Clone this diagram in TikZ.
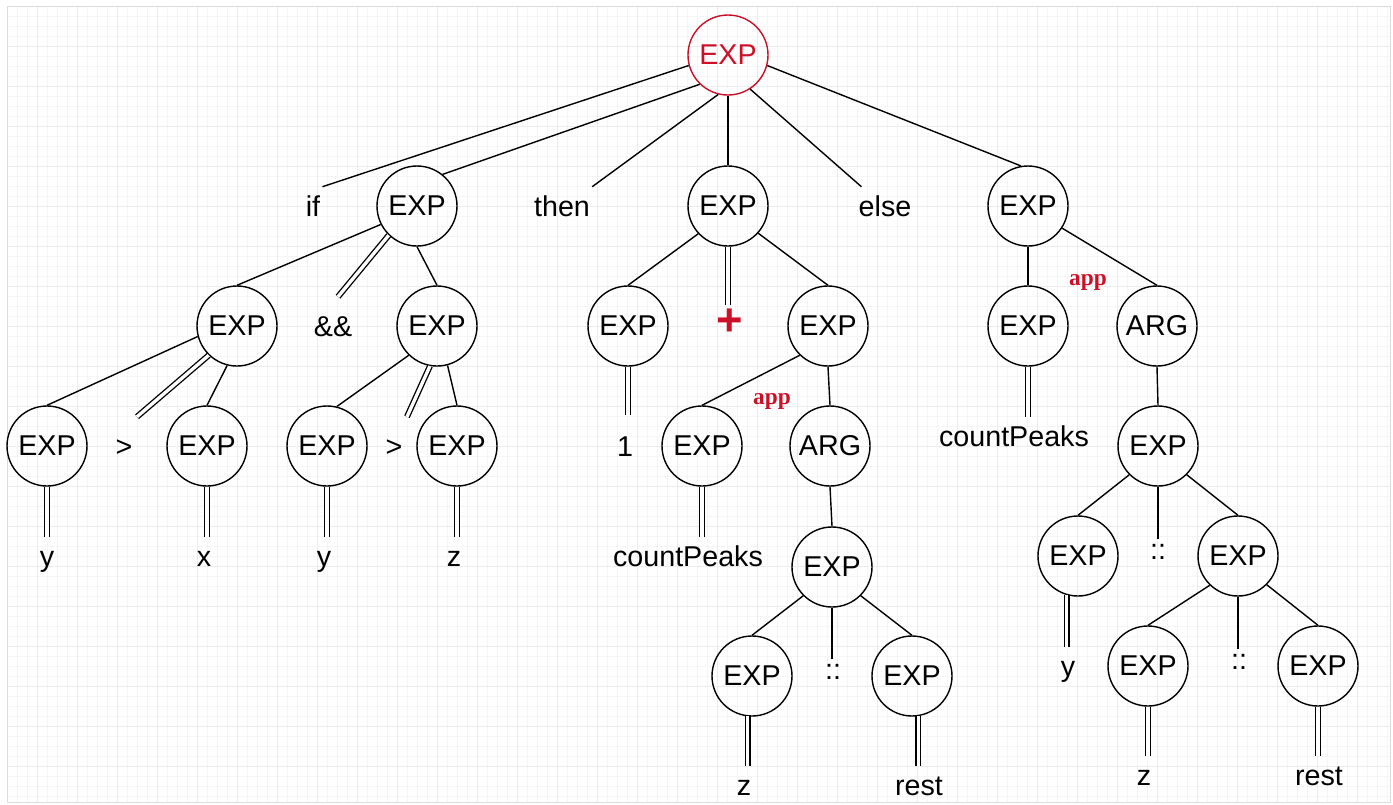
\documentclass[tikz,border=0pt]{standalone}
\usepackage{fontspec}
\setmainfont{Liberation Sans}
\newfontfamily\serifapp{Liberation Serif}
\usetikzlibrary{calc}
\definecolor{nodered}{RGB}{204,16,40}
\definecolor{gridminor}{RGB}{245,245,245}
\definecolor{gridmajor}{RGB}{236,236,236}
\definecolor{framegray}{RGB}{220,220,220}
\begin{document}
\begin{tikzpicture}[x=0.75pt,y=-0.75pt,
  cnode/.style={circle,draw,line width=1.05pt,minimum size=60pt,inner sep=0pt,font=\fontsize{21.5}{25}\selectfont},
  rootnode/.style={cnode,draw=nodered,text=nodered},
  txt/.style={anchor=base,font=\fontsize{21.5}{25}\selectfont,text height=15.75pt,text depth=5pt,inner xsep=1.5pt,inner ysep=6pt},
  gtnode/.style={txt,inner ysep=13.5pt},
  onenode/.style={txt,inner ysep=15pt},
  sepdots/.style={anchor=base,font=\fontsize{21.5}{25}\selectfont,text height=15pt,text depth=0pt,inner xsep=1pt,inner ysep=0pt},
  applbl/.style={font=\serifapp\bfseries\fontsize{17.5}{20}\selectfont,text=nodered,inner sep=0pt},
  pluslbl/.style={font=\bfseries\fontsize{34}{34}\selectfont,text=nodered,inner sep=0pt,minimum height=25.5pt},
  ln/.style={line width=1.05pt},
  dln/.style={line width=1pt,double,double distance=2.5pt}
]
% background
\useasboundingbox (0,0) rectangle (1393,804);
\fill[white] (0,0) rectangle (1393,804);
\begin{scope}
\clip (7,6) rectangle (1390,802);
\foreach \x in {7,17,...,1387} \draw[gridminor,line width=0.75pt] (\x,6) -- (\x,802);
\foreach \y in {6,16,...,796} \draw[gridminor,line width=0.75pt] (7,\y) -- (1390,\y);
\foreach \x in {37,77,...,1387} \draw[gridmajor,line width=0.75pt] (\x,6) -- (\x,802);
\foreach \y in {46,86,...,796} \draw[gridmajor,line width=0.75pt] (7,\y) -- (1390,\y);
\end{scope}
\draw[framegray,line width=0.75pt] (7,6) rectangle (1390,802);

% level 1-2
\node[rootnode] (R) at (728,55) {EXP};
\node[txt] (if) at (313,216) {if};
\node[cnode] (E1) at (417,206) {EXP};
\node[txt] (then) at (562,216) {then};
\node[cnode] (E2) at (728,206) {EXP};
\node[txt] (else) at (885,216) {else};
\node[cnode] (E3) at (1028,206) {EXP};

% level 3
\node[cnode] (E11) at (237,326) {EXP};
\node[gtnode] (amp) at (333,336) {\&\&};
\node[cnode] (E12) at (437,326) {EXP};
\node[cnode] (E21) at (628,326) {EXP};
\node[pluslbl] (plus) at (730,322) {+};
\node[cnode] (E22) at (828,326) {EXP};
\node[cnode] (E31) at (1028,326) {EXP};
\node[applbl] (app2) at (1088,282) {app};
\node[cnode] (A3) at (1157,326) {ARG};

% level 4
\node[cnode] (E111) at (47,446) {EXP};
\node[gtnode] (gt1) at (124,456) {>};
\node[cnode] (E112) at (207,446) {EXP};
\node[cnode] (E121) at (327,446) {EXP};
\node[gtnode] (gt2) at (394,456) {>};
\node[cnode] (E122) at (457,446) {EXP};
\node[onenode] (one) at (625,456) {1};
\node[cnode] (E221) at (702,446) {EXP};
\node[applbl] (app1) at (772,401) {app};
\node[cnode] (A22) at (830,446) {ARG};
\node[txt] (cpR) at (1014,446) {countPeaks};
\node[cnode] (E3A) at (1158,446) {EXP};

% level 5
\node[txt] (yL) at (47,566) {y};
\node[txt] (xL) at (204,566) {x};
\node[txt] (yM) at (324,566) {y};
\node[txt] (zM) at (454,566) {z};
\node[txt] (cpL) at (688,566) {countPeaks};
\node[cnode] (EB) at (832,567) {EXP};
\node[cnode] (E3B1) at (1078,556) {EXP};
\node[sepdots] (dc2) at (1158,559) {::};
\node[cnode] (E3B2) at (1238,556) {EXP};

% level 6
\node[cnode] (EB1) at (752,676) {EXP};
\node[sepdots] (dc1) at (833,679) {::};
\node[cnode] (EB2) at (912,676) {EXP};
\node[txt] (yR) at (1068,676) {y};
\node[cnode] (E3C1) at (1148,666) {EXP};
\node[sepdots] (dc3) at (1239,669) {::};
\node[cnode] (E3C2) at (1318,666) {EXP};

% level 7
\node[txt] (zB) at (744,795) {z};
\node[txt] (restB) at (919,795) {rest};
\node[txt] (zR) at (1144,785) {z};
\node[txt] (restR) at (1319,785) {rest};

% edges from root
\draw[ln] (R.195) -- (if.north east);
\draw[ln] (R.226) -- (E1.51);
\draw[ln] (R.256) -- (then.north east);
\draw[ln] (R.south) -- (E2.north);
\draw[ln] (R.303) -- ([xshift=3.75pt]else.north west);
\draw[ln] (R.345) -- (E3.100);

% E1 subtree
\draw[ln] (E1.207) -- (E11.north);
\draw[dln] (E1.226) -- ([xshift=3.75pt]amp.north);
\draw[ln] (E1.south) -- (E12.north);
\draw[ln] (E11.195) -- (E111.north);
\draw[dln] (E11.226) -- ([xshift=9.75pt]gt1.north);
\draw[ln] (E11.256) -- (E112.north);
\draw[ln] (E12.226) -- (E121.76);
\draw[dln] (E12.260) -- ([xshift=9.75pt]gt2.north);
\draw[ln] (E12.285) -- (E122.north);
\draw[dln] (E111.south) -- (E111.south |- yL.north);
\draw[dln] (E112.south) -- (E112.south |- xL.north);
\draw[dln] (E121.south) -- (E121.south |- yM.north);
\draw[dln] (E122.south) -- (E122.south |- zM.north);

% E2 subtree
\draw[ln] (E2.223) -- (E21.north);
\draw[dln] (E2.south) -- (E2.south |- plus.north);
\draw[ln] (E2.318) -- (E22.north);
\draw[dln] (E21.south) -- (E21.south |- one.north);
\draw[ln] (E22.226) -- (E221.north);
\draw[ln] (E22.south) -- (A22.north);
\draw[dln] (E221.south) -- (E221.south |- cpL.north);
\draw[ln] (A22.south) -- (EB.north);
\draw[ln] (EB.225) -- (EB1.north);
\draw[ln] (EB.south) -- (EB.south |- dc1.north);
\draw[ln] (EB.315) -- (EB2.north);
\draw[dln] (EB1.264) -- (EB1.264 |- zB.north);
\draw[dln] (EB2.279) -- (EB2.279 |- restB.north);

% E3 subtree
\draw[ln] (E3.south) -- (E31.north);
\draw[ln] (E3.327) -- (A3.north);
\draw[dln] (E31.south) -- (E31.south |- cpR.north);
\draw[ln] (A3.south) -- (E3A.north);
\draw[ln] (E3A.225) -- (E3B1.north);
\draw[ln] (E3A.south) -- (E3A.south |- dc2.north);
\draw[ln] (E3A.315) -- (E3B2.north);
\draw[dln] (E3B1.254) -- (E3B1.254 |- yR.north);
\draw[ln] (E3B2.226) -- (E3C1.north);
\draw[ln] (E3B2.south) -- (E3B2.south |- dc3.north);
\draw[ln] (E3B2.315) -- (E3C2.north);
\draw[dln] (E3C1.south) -- (E3C1.south |- zR.north);
\draw[dln] (E3C2.south) -- (E3C2.south |- restR.north);
\end{tikzpicture}
\end{document}
